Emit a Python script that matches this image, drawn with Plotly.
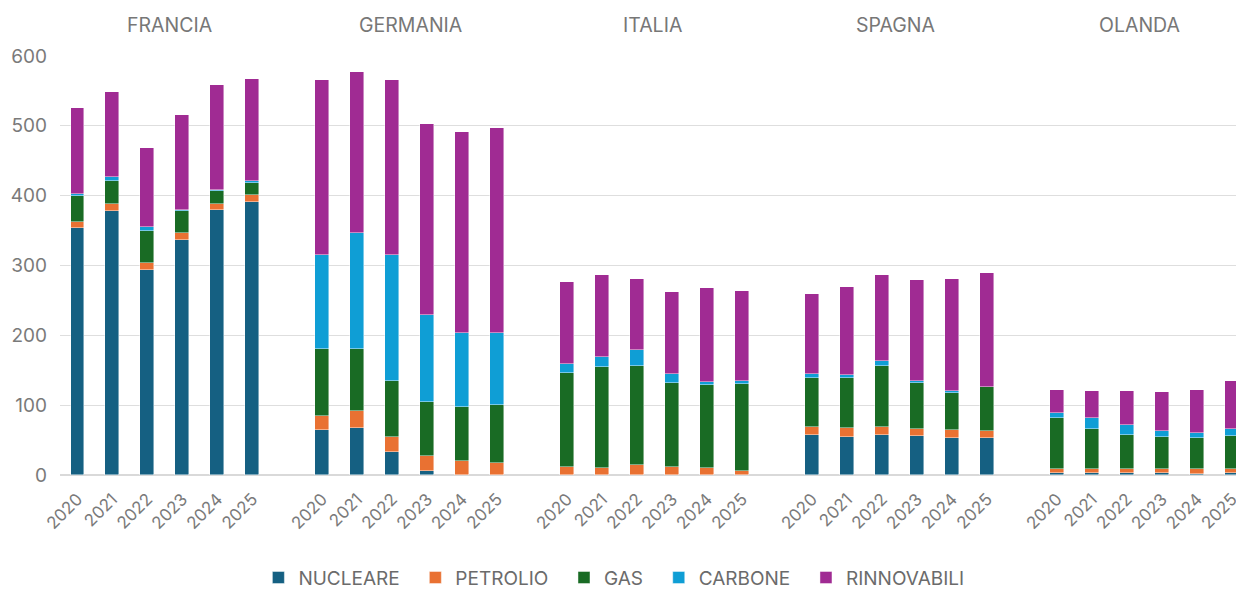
import plotly.graph_objects as go

countries = ["FRANCIA", "GERMANIA", "ITALIA", "SPAGNA", "OLANDA"]
years = ["2020", "2021", "2022", "2023", "2024", "2025"]

# values per country (2020..2025)
nucleare = {
    "FRANCIA": [353, 378, 294, 337, 379, 391],
    "GERMANIA": [64, 68, 33, 6, 0, 0],
    "ITALIA": [0, 0, 0, 0, 0, 0],
    "SPAGNA": [57, 55, 57, 56, 53, 53],
    "OLANDA": [3.3, 3.3, 3.3, 3.3, 2.0, 3.3],
}
petrolio = {
    "FRANCIA": [10, 10, 10, 9.5, 9.5, 10.5],
    "GERMANIA": [21, 23, 22, 21, 19.6, 17.7],
    "ITALIA": [11.5, 10, 14.4, 11.5, 9.6, 5.7],
    "SPAGNA": [12.4, 12.5, 11.5, 10, 11, 10.5],
    "OLANDA": [5.8, 5.8, 5.8, 4.8, 6.2, 5.8],
}
gas = {
    "FRANCIA": [36, 33, 46, 31, 18, 17],
    "GERMANIA": [95, 90, 79, 77, 78, 83],
    "ITALIA": [134, 144, 142, 120, 119, 125],
    "SPAGNA": [70, 72, 87, 66, 53, 62],
    "OLANDA": [72, 57, 48, 46, 44.5, 46.4],
}
carbone = {
    "FRANCIA": [3, 6, 5, 1.5, 1.5, 2.5],
    "GERMANIA": [135, 165, 181, 125, 106, 103],
    "ITALIA": [14, 15, 23, 13, 4.5, 3.4],
    "SPAGNA": [5.3, 4.3, 8, 2.8, 2.9, 1.2],
    "OLANDA": [7.7, 14.9, 14.8, 9, 7.7, 10],
}
rinnovabili = {
    "FRANCIA": [124, 122, 113, 137, 151, 146.5],
    "GERMANIA": [251, 231, 251, 274, 288, 293],
    "ITALIA": [117, 117, 101, 117, 134, 129],
    "SPAGNA": [114, 126, 123, 145, 161, 162],
    "OLANDA": [33, 40, 48, 56, 62, 69.5],
}

series = [
    ("NUCLEARE", nucleare, "#156082"),
    ("PETROLIO", petrolio, "#E97132"),
    ("GAS", gas, "#196B24"),
    ("CARBONE", carbone, "#0F9ED5"),
    ("RINNOVABILI", rinnovabili, "#A02B93"),
]

# x positions: one empty slot between countries
GAP = 1
xpos = []
xlab = []
for gi, c in enumerate(countries):
    for yi, y in enumerate(years):
        xpos.append(gi * (len(years) + GAP) + yi)
        xlab.append(y)

FONT = "Inter"
NBSP = "\u00a0"
fig = go.Figure()
for i, (name, d, color) in enumerate(series):
    vals = []
    for c in countries:
        vals.extend(d[c])
    fig.add_trace(go.Bar(
        x=xpos, y=vals, name=name + (NBSP * 2 if i < len(series) - 1 else ""), width=0.4,
        marker=dict(color=color, line=dict(color="rgba(255,255,255,0.55)", width=0.8)),
    ))

PLOT_TOP = 56
PLOT_H = 590 - 56 - 115
label_shift = [5, 1, -2, -4, -5]
for gi, c in enumerate(countries):
    center = gi * (len(years) + GAP) + (len(years) - 1) / 2
    fig.add_annotation(
        x=center, xref="x", y=1 + (PLOT_TOP - 25) / PLOT_H, yref="paper",
        yanchor="middle", text=c, showarrow=False, xshift=label_shift[gi],
        font=dict(family=FONT, size=19.5, color="#777777"),
    )

fig.update_layout(
    barmode="stack",
    width=1236, height=590,
    margin=dict(l=60, r=0, t=PLOT_TOP, b=115, autoexpand=False),
    plot_bgcolor="white", paper_bgcolor="white",
    font=dict(family=FONT, color="#7a7a7a"),
    bargap=0,
    xaxis=dict(
        range=[-0.5, 33.11], automargin=False,
        tickmode="array", tickvals=xpos, ticktext=xlab,
        tickangle=-45, tickfont=dict(size=17, color="#7a7a7a"),
        ticklabelstandoff=10, ticklabeloverflow="allow",
        showgrid=False, zeroline=False, showline=False, ticks="",
    ),
    yaxis=dict(
        range=[0, 600], dtick=100, automargin=False,
        tickfont=dict(size=19, color="#7a7a7a"),
        gridcolor="#dedede", gridwidth=1.3,
        zeroline=True, zerolinecolor="#d9d9d9", zerolinewidth=1.5,
        showline=False, ticks="", ticklabelstandoff=12,
    ),
    legend=dict(
        orientation="h", x=0.471, xanchor="center", y=-0.245, yanchor="middle",
        font=dict(family=FONT, size=19, color="#6b6b6b"),
        traceorder="normal", itemwidth=30,
    ),
    showlegend=True,
)

fig.write_html(
    "out.html",
    config={"displayModeBar": False},
    post_script="document.body.style.margin='0px';document.body.style.overflow='hidden';",
)
